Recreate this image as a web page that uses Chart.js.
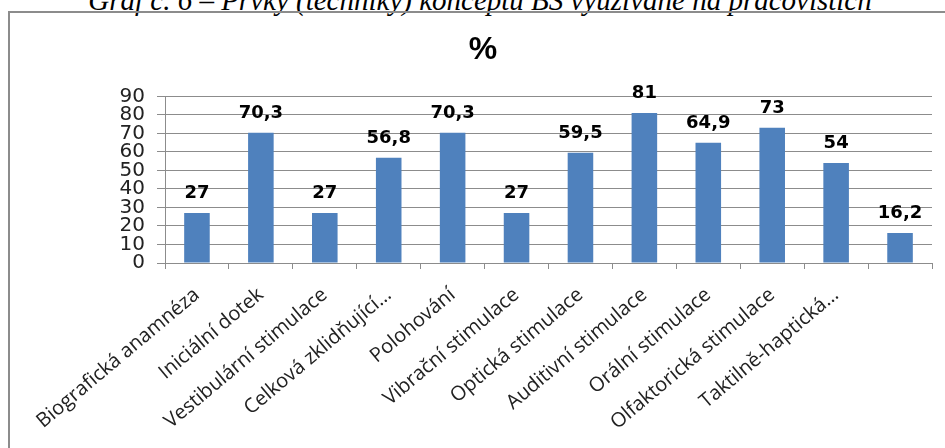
<!DOCTYPE html>
<html>
<head>
<meta charset="utf-8">
<script src="https://cdn.jsdelivr.net/npm/chart.js@4/dist/chart.umd.min.js"></script>
<style>
  html, body { margin: 0; padding: 0; background: #fff; overflow: hidden; }
  #wrap { position: relative; width: 945px; height: 448px; }
  #caption {
    position: absolute; left: 0; top: -14px; width: 960px; text-align: center;
    font: italic 29px "Liberation Serif", serif; line-height: 29px; color: #000;
    white-space: nowrap;
  }
  #frame {
    position: absolute; left: 8px; top: 11px; width: 960px; height: 460px;
    border-left: 2px solid #8c8c8c; border-top: 2px solid #8c8c8c;
    pointer-events: none;
  }
  #myChart { position: absolute; left: 0; top: 0; }
</style>
</head>
<body>
<div id="wrap">
  <div id="caption">Graf č. 6 – Prvky (techniky) konceptu BS využívané na pracovištích</div>
  <div id="frame"></div>
  <canvas id="myChart" width="945" height="448"></canvas>
</div>
<script>
const categories = [
  "Biografická anamnéza",
  "Iniciální dotek",
  "Vestibulární stimulace",
  "Celková zklidňující…",
  "Polohování",
  "Vibrační stimulace",
  "Optická stimulace",
  "Auditivní stimulace",
  "Orální stimulace",
  "Olfaktorická stimulace",
  "Taktilně-haptická…",
  ""
];
const percent = [27, 70.3, 27, 56.8, 70.3, 27, 59.5, 81, 64.9, 73, 54, 16.2];
const yTicks = [0, 10, 20, 30, 40, 50, 60, 70, 80, 90];

// values printed above the bars, czech decimal comma
const barLabels = {
  id: "barLabels",
  afterDatasetsDraw(chart) {
    const ctx = chart.ctx;
    const meta = chart.getDatasetMeta(0);
    ctx.save();
    ctx.font = "bold 18px 'DejaVu Sans'";
    ctx.fillStyle = "#000";
    ctx.textAlign = "center";
    ctx.textBaseline = "middle";
    meta.data.forEach((bar, i) => {
      ctx.fillText(String(percent[i]).replace(".", ","), bar.x, bar.y - 20);
    });
    ctx.restore();
  }
};

const ctx = document.querySelector("#myChart").getContext("2d");

const config = {
  type: "bar",
  data: {
    labels: categories,
    datasets: [
      {
        label: "%",
        data: percent,
        backgroundColor: "#4f81bd",
        borderWidth: 0,
        categoryPercentage: 1,
        barPercentage: 0.4,
      },
    ],
  },
  options: {
    responsive: false,
    animation: false,
    layout: { padding: { left: 34, right: 13, top: 31, bottom: 0 } },
    plugins: {
      legend: { display: false },
      tooltip: { enabled: false },
      title: {
        display: true,
        text: "%",
        color: "#000",
        font: { family: "'Liberation Sans'", size: 32, weight: "bold", lineHeight: 1.2 },
        padding: { top: 0, bottom: 27 },
      },
    },
    scales: {
      x: {
        grid: {
          display: true,
          offset: true,
          drawOnChartArea: false,
          drawTicks: true,
          tickLength: 6,
          color: "#8c8c8c",
        },
        border: { color: "#8c8c8c" },
        ticks: {
          autoSkip: false,
          minRotation: 40,
          maxRotation: 40,
          padding: 14,
          color: "#222",
          font: { family: "'Open Sans'", size: 20 },
        },
        afterFit(scale) { scale.height = 448 - 263; },
      },
      y: {
        min: 0,
        max: 90,
        afterBuildTicks(scale) { scale.ticks = yTicks.map(v => ({ value: v })); },
        grid: { color: "#8c8c8c", tickLength: 8 },
        border: { color: "#8c8c8c" },
        ticks: {
          autoSkip: false,
          padding: 12,
          color: "#222",
          font: { family: "'DejaVu Sans'", size: 20 },
        },
        afterFit(scale) { scale.width = 131; },
      },
    },
  },
  plugins: [barLabels],
};

const myChart = new Chart(ctx, config);
</script>
</body>
</html>
